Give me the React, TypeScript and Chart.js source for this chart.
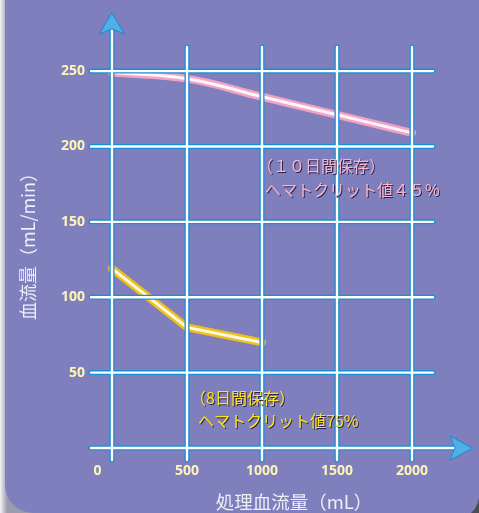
import { useEffect, useRef } from "react";
import { Chart, registerables } from "chart.js";

Chart.register(...registerables);

// ---- data ----
const xTicks = [0, 500, 1000, 1500, 2000];
const yTicks = [50, 100, 150, 200, 250];
const pinkX = [0, 500, 1000, 1500, 2000];
const pinkY = [249, 245, 233, 221, 209];
const yellowX = [0, 500, 1000];
const yellowY = [119, 80, 70];
const yTitle = "血流量（mL/min）";
const xTitle = "処理血流量（mL）";
const pinkLabel = ["（１０日間保存）", "ヘマトクリット値４５%"];
const yellowLabel = ["（8日間保存）", "ヘマトクリット値75%"];

const CJK = '"Noto Sans CJK JP", "Noto Sans", sans-serif';

const decor = {
  id: "decor",
  beforeDraw(chart: any) {
    const { ctx, width, height } = chart;
    ctx.save();
    const g = ctx.createLinearGradient(0, 0, 7, 0);
    g.addColorStop(0, "#f4f4f6");
    g.addColorStop(1, "#9c9cae");
    ctx.fillStyle = g;
    ctx.fillRect(0, 0, width, height);
    const L = 5;
    const r = 28;
    ctx.fillStyle = "#7f7fbe";
    ctx.beginPath();
    ctx.moveTo(L, 0);
    ctx.lineTo(width, 0);
    ctx.lineTo(width, height);
    ctx.lineTo(L + r, height);
    ctx.arcTo(L, height, L, height - r, r);
    ctx.closePath();
    ctx.fill();
    // bottom-right dark corner
    ctx.fillStyle = "#4c4c56";
    ctx.beginPath();
    ctx.moveTo(width, 498);
    ctx.quadraticCurveTo(477, 508, 471, height);
    ctx.lineTo(width, height);
    ctx.closePath();
    ctx.fill();
    ctx.restore();
  },
  afterDatasetsDraw(chart: any) {
    const { ctx, chartArea: a, scales } = chart;
    const xs = scales.x;
    const ys = scales.y;
    const x0 = xs.getPixelForValue(0);
    const y0 = ys.getPixelForValue(0);
    const segs: number[][] = [];
    yTicks.forEach((v) => {
      const py = ys.getPixelForValue(v);
      segs.push([a.left, py, a.right, py]);
    });
    xTicks.slice(1).forEach((v) => {
      const px = xs.getPixelForValue(v);
      segs.push([px, a.top, px, a.bottom]);
    });
    // axes
    segs.push([x0, 30, x0, a.bottom]);
    segs.push([a.left, y0, 456, y0]);
    ctx.save();
    ctx.lineCap = "round";
    ctx.strokeStyle = "#1a8ed2";
    ctx.lineWidth = 5;
    segs.forEach(([a1, b1, a2, b2]) => {
      ctx.beginPath();
      ctx.moveTo(a1, b1);
      ctx.lineTo(a2, b2);
      ctx.stroke();
    });
    ctx.strokeStyle = "#ffffff";
    ctx.lineWidth = 2.4;
    segs.forEach(([a1, b1, a2, b2]) => {
      ctx.beginPath();
      ctx.moveTo(a1, b1);
      ctx.lineTo(a2, b2);
      ctx.stroke();
    });
    // arrows
    ctx.fillStyle = "#4fb0e8";
    ctx.strokeStyle = "#1a88cc";
    ctx.lineWidth = 1;
    ctx.lineJoin = "round";
    ctx.beginPath();
    ctx.moveTo(x0, 13);
    ctx.lineTo(x0 + 12.5, 34);
    ctx.lineTo(x0, 29);
    ctx.lineTo(x0 - 12.5, 34);
    ctx.closePath();
    ctx.fill();
    ctx.stroke();
    ctx.beginPath();
    ctx.moveTo(472.5, y0);
    ctx.lineTo(450, y0 - 12);
    ctx.lineTo(455, y0);
    ctx.lineTo(450, y0 + 12);
    ctx.closePath();
    ctx.fill();
    ctx.stroke();

    // titles
    ctx.fillStyle = "#eeeef8";
    ctx.textAlign = "center";
    ctx.textBaseline = "middle";
    ctx.font = `18px ${CJK}`;
    ctx.save();
    ctx.translate(28, 242);
    ctx.rotate(-Math.PI / 2);
    ctx.fillText(yTitle, 0, 0);
    ctx.restore();
    ctx.font = `18.5px ${CJK}`;
    ctx.fillText(xTitle, 294, 502);

    // annotations
    ctx.textAlign = "left";
    ctx.font = `16px ${CJK}`;
    ctx.shadowColor = "rgba(40,30,70,0.95)";
    ctx.shadowOffsetX = 1;
    ctx.shadowOffsetY = 1;
    ctx.shadowBlur = 0;
    ctx.fillStyle = "#f6b6cc";
    ctx.fillText(pinkLabel[0], 257, 166);
    ctx.fillText(pinkLabel[1], 265, 190);
    ctx.fillStyle = "#ffe21a";
    ctx.fillText(yellowLabel[0], 190, 398);
    ctx.fillText(yellowLabel[1], 198, 421);
    ctx.restore();
  },
};

export default function App() {
  const ref = useRef<HTMLCanvasElement | null>(null);
  useEffect(() => {
    const canvas = ref.current;
    if (!canvas) return;
    const pts = (xs: number[], ys: number[]) => xs.map((x, i) => ({ x, y: ys[i] }));
    const tickFont = { family: '"Noto Sans", sans-serif', size: 14, weight: "bold" as const };
    const chart = new Chart(canvas, {
      type: "line",
      data: {
        datasets: [
          { data: pts(pinkX, pinkY), order: 1, borderColor: "#fff6fa", borderWidth: 3, tension: 0.4, pointRadius: 0, borderCapStyle: "round" },
          { data: pts(pinkX, pinkY), order: 2, borderColor: "#f2a2c4", borderWidth: 8, tension: 0.4, pointRadius: 0, borderCapStyle: "round" },
          { data: pts(yellowX, yellowY), order: 1, borderColor: "#fffbe2", borderWidth: 3, tension: 0, pointRadius: 0, borderCapStyle: "round", borderJoinStyle: "round" },
          { data: pts(yellowX, yellowY), order: 2, borderColor: "#f2c01a", borderWidth: 8, tension: 0, pointRadius: 0, borderCapStyle: "round", borderJoinStyle: "round" },
        ] as any,
      },
      options: {
        responsive: false,
        animation: false,
        events: [],
        layout: { padding: { top: 47, right: 46, left: 0, bottom: 0 } },
        plugins: { legend: { display: false }, tooltip: { enabled: false } },
        scales: {
          x: {
            type: "linear",
            min: -140,
            max: 2140,
            grid: { display: false, drawTicks: false },
            border: { display: false },
            afterBuildTicks: (s: any) => {
              s.ticks = xTicks.map((v) => ({ value: v }));
            },
            afterFit: (s: any) => {
              s.height = 53;
            },
            ticks: {
              color: "#fff4b8",
              font: tickFont,
              padding: 3,
              maxRotation: 0,
              autoSkip: false,
              callback: (v: any) => (v === 0 ? "0" + " ".repeat(8) : String(v)),
            },
          },
          y: {
            type: "linear",
            min: -8,
            max: 266,
            grid: { display: false, drawTicks: false },
            border: { display: false },
            afterBuildTicks: (s: any) => {
              s.ticks = yTicks.map((v) => ({ value: v }));
            },
            afterFit: (s: any) => {
              s.width = 91;
            },
            ticks: {
              color: "#fff4b8",
              font: tickFont,
              padding: 6,
              autoSkip: false,
              callback: (v: any) => String(v),
            },
          },
        },
      } as any,
      plugins: [decor],
    });
    return () => chart.destroy();
  }, []);
  return (
    <div style={{ position: "fixed", left: 0, top: 0, width: 479, height: 513 }}>
      <canvas ref={ref} width={479} height={513} style={{ width: 479, height: 513, display: "block" }} />
    </div>
  );
}
